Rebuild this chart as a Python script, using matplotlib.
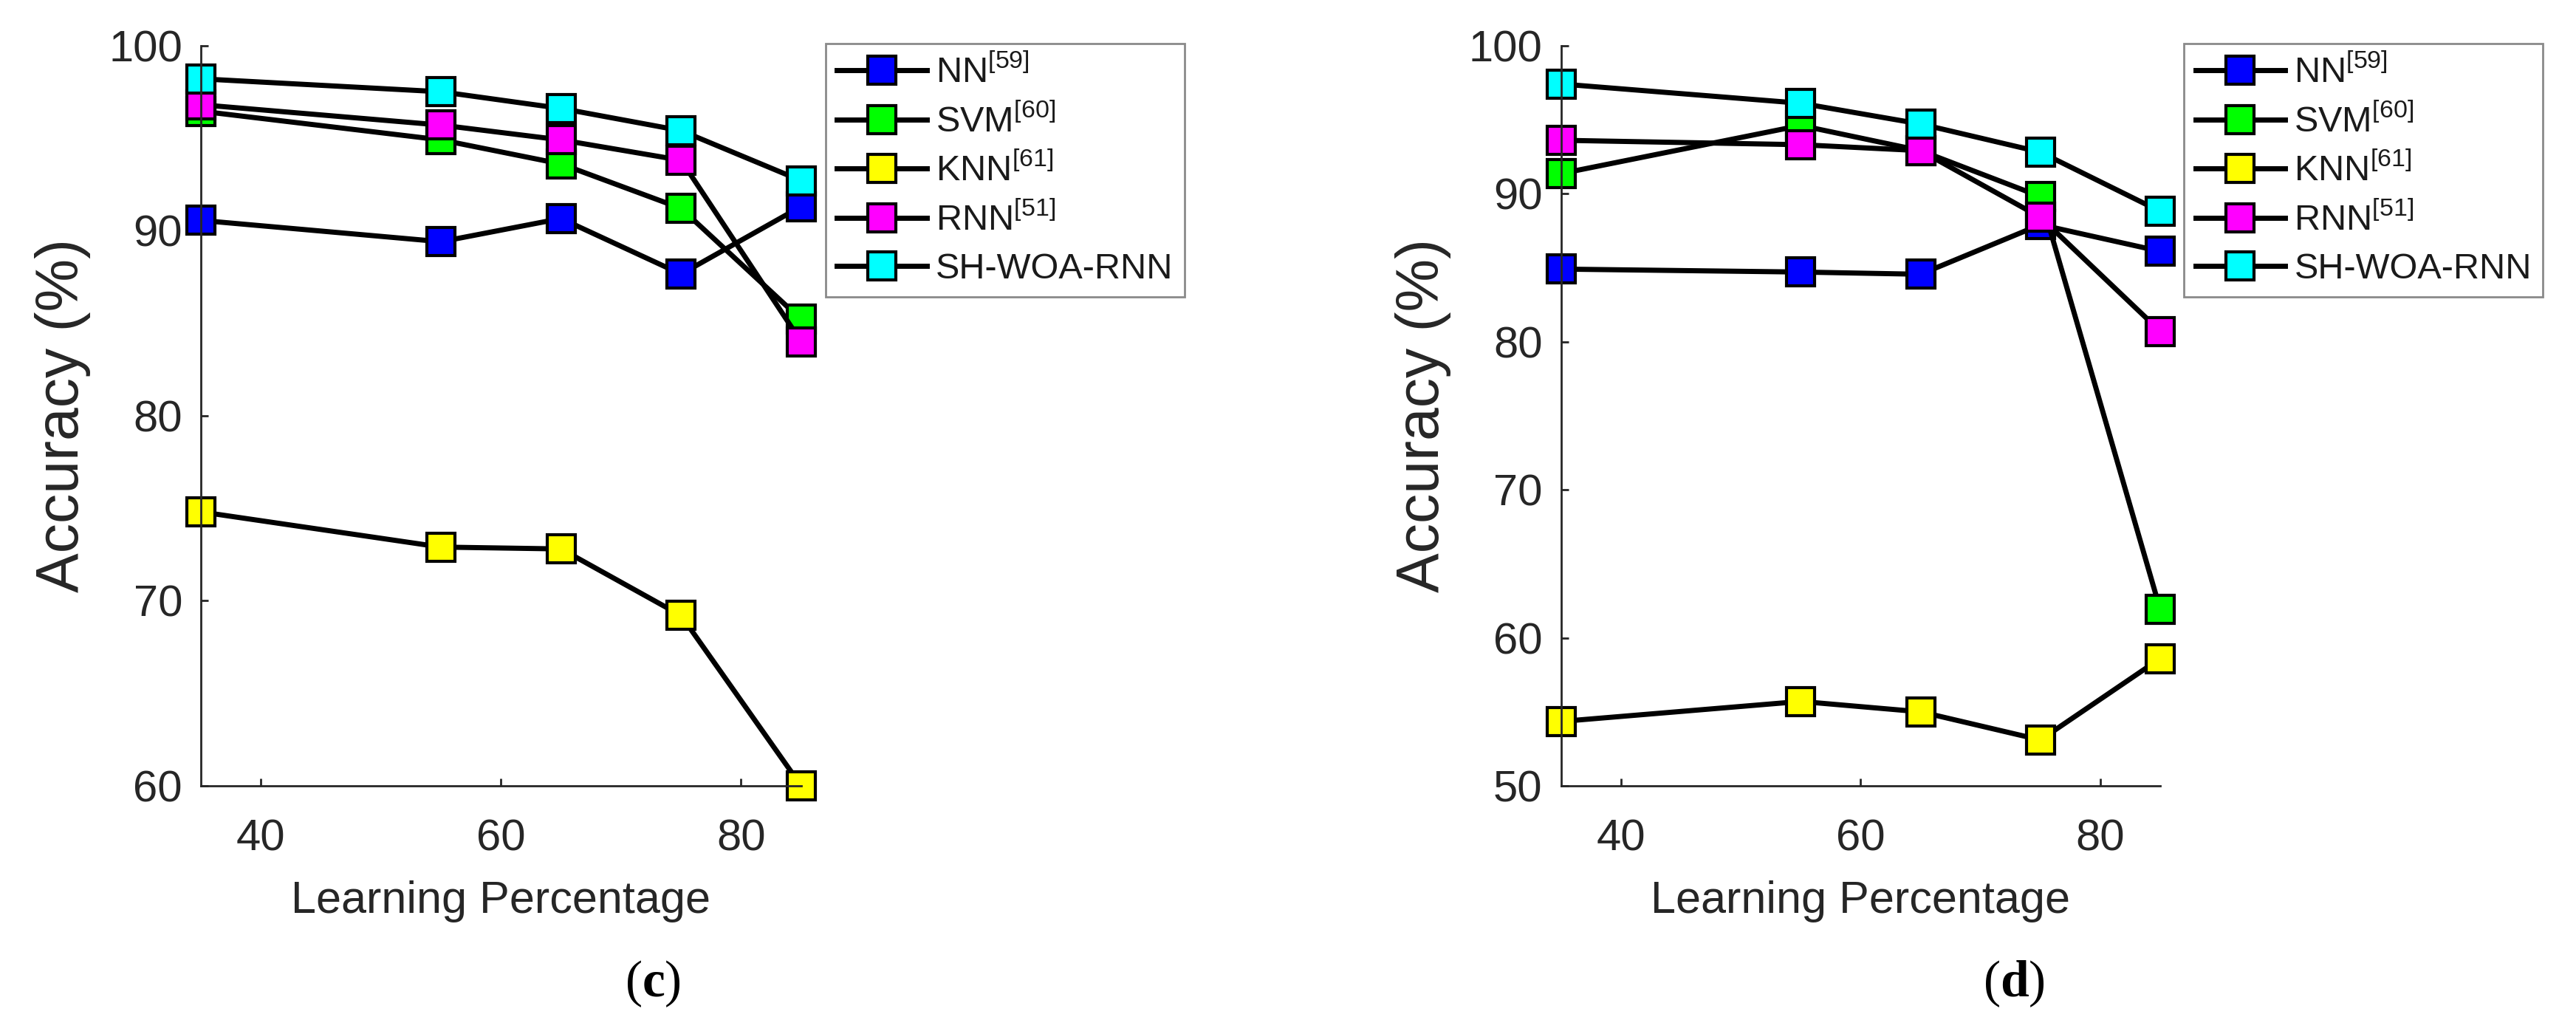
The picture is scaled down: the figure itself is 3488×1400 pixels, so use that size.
import matplotlib
matplotlib.use("Agg")
import matplotlib.pyplot as plt

plt.rcParams['font.family'] = ['Liberation Sans', 'DejaVu Sans']
plt.rcParams['mathtext.fontset'] = 'custom'
plt.rcParams['mathtext.rm'] = 'Liberation Sans'
plt.rcParams['mathtext.bf'] = 'Liberation Serif:bold'

# learning percentage (x axis)
learning_pct = [35, 55, 65, 75, 85]

method_names = ['NN', 'SVM', 'KNN', 'RNN', 'SH-WOA-RNN']
method_refs = ['[59]', '[60]', '[61]', '[51]', '']
method_colors = ['#0000ff', '#00ff00', '#ffff00', '#ff00ff', '#00ffff']

# panel (c)
acc_c_nn = [90.55, 89.4, 90.65, 87.65, 91.3]
acc_c_svm = [96.45, 94.9, 93.6, 91.2, 85.2]
acc_c_knn = [74.8, 72.9, 72.8, 69.2, 60.0]
acc_c_rnn = [96.8, 95.7, 94.9, 93.8, 84.0]
acc_c_sh = [98.2, 97.5, 96.6, 95.4, 92.7]

# panel (d)
acc_d_nn = [84.9, 84.7, 84.55, 87.9, 86.1]
acc_d_svm = [91.35, 94.6, 92.9, 89.8, 61.9]
acc_d_knn = [54.35, 55.7, 55.0, 53.1, 58.6]
acc_d_rnn = [93.6, 93.3, 92.9, 88.4, 80.7]
acc_d_sh = [97.4, 96.1, 94.7, 92.8, 88.8]

panels = [
    dict(series=[acc_c_nn, acc_c_svm, acc_c_knn, acc_c_rnn, acc_c_sh],
         ylim=(60, 100), yticks=[60, 70, 80, 90, 100], tag='c',
         rect=[0.078, 0.240, 0.233, 0.716], leg_anchor=(0.3205, 0.958),
         tag_x=0.2534),
    dict(series=[acc_d_nn, acc_d_svm, acc_d_knn, acc_d_rnn, acc_d_sh],
         ylim=(50, 100), yticks=[50, 60, 70, 80, 90, 100], tag='d',
         rect=[0.606, 0.240, 0.2326, 0.716], leg_anchor=(0.8478, 0.958),
         tag_x=0.7818),
]

fig = plt.figure(figsize=(17.44, 7.0), dpi=200)
txt_col = '#262626'

for p in panels:
    ax = fig.add_axes(p['rect'])
    for vals, name, ref, col in zip(p['series'], method_names, method_refs, method_colors):
        label = name + (r'$^{\mathregular{%s}}$' % ref if ref else '')
        ax.plot(learning_pct, vals, color='black', lw=2.5, marker='s', ms=13.6,
                mfc=col, mec='black', mew=1.5, label=label, clip_on=False)

    ax.set_xlim(35, 85)
    ax.set_ylim(*p['ylim'])
    ax.set_xticks([40, 60, 80])
    ax.set_yticks(p['yticks'])
    for s in ['top', 'right']:
        ax.spines[s].set_visible(False)
    for s in ['left', 'bottom']:
        ax.spines[s].set_color(txt_col)
        ax.spines[s].set_linewidth(1.0)
    ax.tick_params(direction='in', length=3.5, width=1, colors=txt_col, labelsize=21.5)
    ax.tick_params(axis='x', pad=16)
    ax.tick_params(axis='y', pad=9)

    ax.set_xlabel('Learning Percentage', fontsize=22, color=txt_col, va='center')
    ax.xaxis.set_label_coords(0.5, -0.156)
    ax.set_ylabel('Accuracy (%)', fontsize=29, color=txt_col, va='center')
    ax.yaxis.set_label_coords(-0.23, 0.5)

    leg = ax.legend(loc='upper left', bbox_to_anchor=p['leg_anchor'],
                    bbox_transform=fig.transFigure, fontsize=17.5, frameon=True,
                    fancybox=False, edgecolor='#8a8a8a', framealpha=1,
                    handlelength=2.5, handletextpad=0.25, labelspacing=0.4,
                    borderpad=0.32, borderaxespad=0)
    leg.get_frame().set_linewidth(1.0)
    for t in leg.get_texts():
        t.set_color('#1a1a1a')

    # panel tag, e.g. "(c)" with a bold letter
    fig.text(p['tag_x'], 0.0486, r'($\mathbf{%s}$)' % p['tag'], fontsize=25,
             family='Liberation Serif', ha='center', va='center')

plt.savefig('out.png', dpi=200)
